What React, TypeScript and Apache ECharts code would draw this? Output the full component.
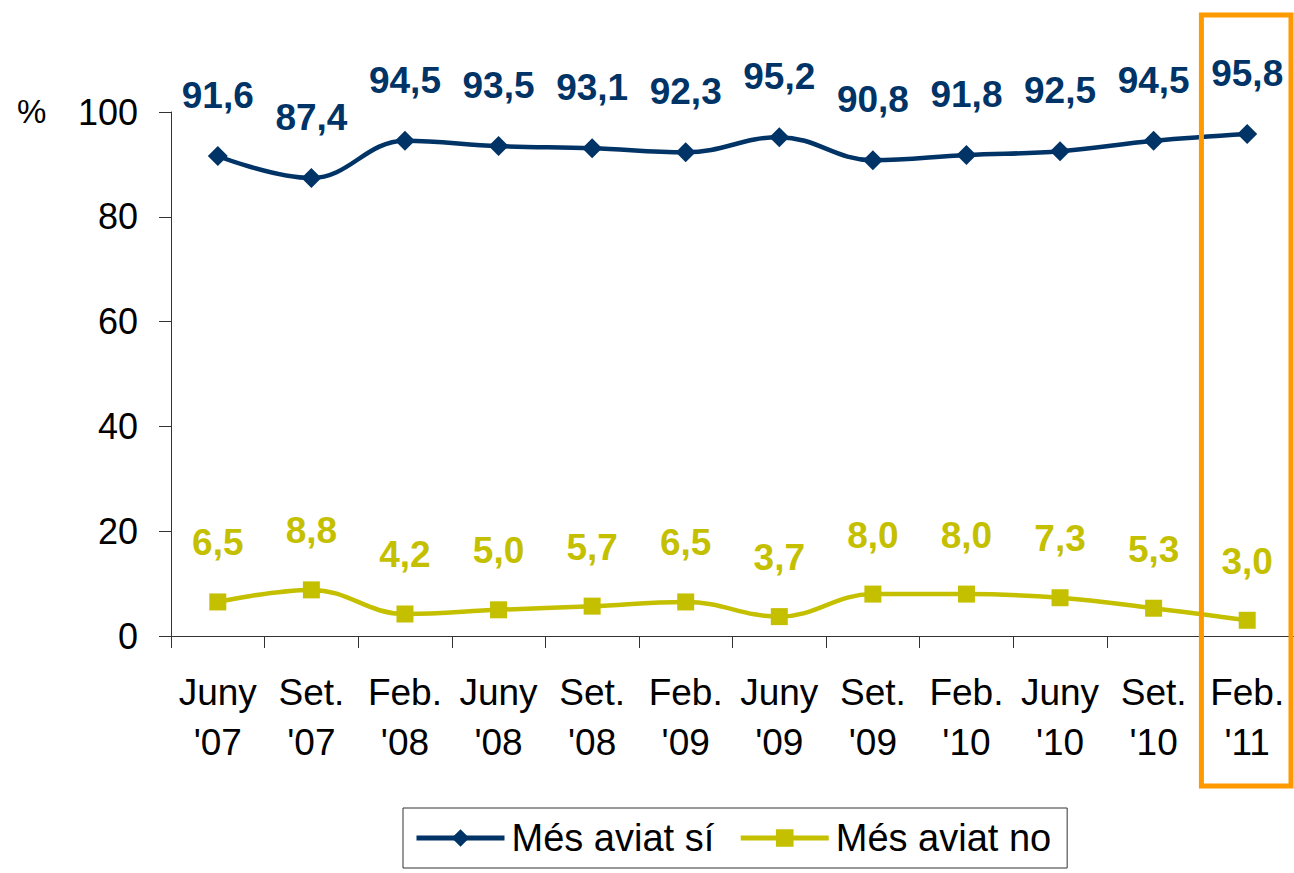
import React, { useEffect, useRef } from "react";
import * as echarts from "echarts";

const categories = ["Juny\n'07", "Set.\n'07", "Feb.\n'08", "Juny\n'08", "Set.\n'08", "Feb.\n'09", "Juny\n'09", "Set.\n'09", "Feb.\n'10", "Juny\n'10", "Set.\n'10", "Feb.\n'11"];
const mesAviatSi = [91.6, 87.4, 94.5, 93.5, 93.1, 92.3, 95.2, 90.8, 91.8, 92.5, 94.5, 95.8];
const mesAviatNo = [6.5, 8.8, 4.2, 5.0, 5.7, 6.5, 3.7, 8.0, 8.0, 7.3, 5.3, 3.0];
const yTicks = [0, 20, 40, 60, 80, 100];
const highlighted = "Feb.\n'11";

const BLUE = "#003366";
const YELLOW = "#C4C000";
const FONT = "'Liberation Sans', Arial, sans-serif";

const fmt = (v: number) => v.toFixed(1).replace(".", ",");

export default function App() {
  const ref = useRef<HTMLDivElement>(null);
  useEffect(() => {
    if (!ref.current) return;
    const chart = echarts.init(ref.current, null, { renderer: "svg" });
    const labelCommon = (color: string) => ({
      show: true,
      position: "top" as const,
      distance: 32,
      color,
      fontFamily: FONT,
      fontSize: 37,
      fontWeight: "bold" as const,
      formatter: (p: any) => fmt(p.value),
    });
    const pctText = {
      type: "text",
      left: 17,
      top: 95,
      style: { text: "%", fontFamily: FONT, fontSize: 33, fill: "#000" },
    };
    chart.setOption({
      animation: false,
      textStyle: { fontFamily: FONT },
      grid: { left: 171, right: 0, top: 112, bottom: 237, containLabel: false },
      xAxis: {
        type: "category",
        data: categories,
        boundaryGap: true,
        axisLine: { lineStyle: { color: "#333", width: 1 } },
        axisTick: { show: true, length: 12, lineStyle: { color: "#333" } },
        axisLabel: {
          fontFamily: FONT,
          fontSize: 37,
          color: "#000",
          lineHeight: 50,
          margin: 31,
          interval: 0,
        },
        splitLine: { show: false },
      },
      yAxis: {
        type: "value",
        min: yTicks[0],
        max: yTicks[yTicks.length - 1],
        interval: 20,
        axisLine: { show: true, lineStyle: { color: "#333", width: 1 } },
        axisTick: { show: true, length: 12, lineStyle: { color: "#333" } },
        axisLabel: { fontFamily: FONT, fontSize: 36, color: "#000", margin: 33 },
        splitLine: { show: false },
      },
      legend: {
        left: 403,
        top: 808,
        orient: "horizontal",
        borderColor: "#333",
        borderWidth: 1,
        padding: [11, 16, 11, 11],
        itemWidth: 88,
        itemHeight: 22,
        itemGap: 24,
        lineStyle: { width: 5 },
        textStyle: { fontFamily: FONT, fontSize: 38, color: "#000", padding: [0, 0, 0, 2] },
        data: ["Més aviat sí", "Més aviat no"],
      },
      series: [
        {
          name: "Més aviat sí",
          type: "line",
          data: mesAviatSi,
          smooth: 0.4,
          symbol: "diamond",
          symbolSize: 20,
          lineStyle: { color: BLUE, width: 4.5 },
          itemStyle: { color: BLUE },
          label: labelCommon(BLUE),
        },
        {
          name: "Més aviat no",
          type: "line",
          data: mesAviatNo,
          smooth: 0.4,
          symbol: "rect",
          symbolSize: 17,
          lineStyle: { color: YELLOW, width: 4.5 },
          itemStyle: { color: YELLOW },
          label: labelCommon(YELLOW),
        },
      ],
      graphic: [pctText],
    });
    const cx = chart.convertToPixel({ xAxisIndex: 0 }, highlighted) as number;
    const band = (chart.convertToPixel({ xAxisIndex: 0 }, categories[1]) as number) - (chart.convertToPixel({ xAxisIndex: 0 }, categories[0]) as number);
    chart.setOption({
      graphic: [
        pctText,
        {
          type: "rect",
          shape: { x: cx - band / 2 + 1, y: 15, width: band - 4, height: 771 },
          style: { fill: "none", stroke: "#FF9900", lineWidth: 5 },
          z: 100,
        },
      ],
    });
    return () => chart.dispose();
  }, []);
  return <div ref={ref} style={{ position: "absolute", left: 0, top: 0, width: 1294, height: 873 }} />;
}
